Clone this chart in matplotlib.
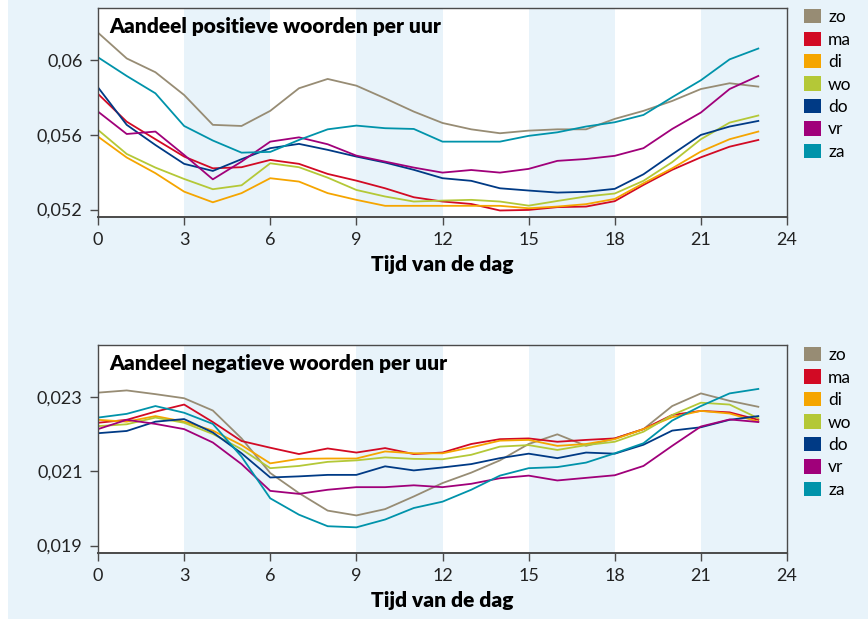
#!/usr/bin/env python3
r"""
Aandeel positieve / negatieve woorden per uur, per dag van de week.
"""

import matplotlib
matplotlib.use('Agg')
import matplotlib.pyplot as plt
from matplotlib.patches import Patch, Rectangle

plt.rcParams['font.family'] = ['Lato', 'DejaVu Sans']

hours = list(range(24))
days = ['zo', 'ma', 'di', 'wo', 'do', 'vr', 'za']
colors = ['#978c74', '#d20a24', '#f5a500', '#b4c837', '#003a85', '#a0007a', '#0093aa']

# positive word share per hour
pos_zo = [0.06148, 0.0601, 0.05936, 0.05814, 0.05654, 0.05648, 0.05729, 0.0585, 0.0590, 0.05864, 0.05796, 0.05725,
          0.05664, 0.0563, 0.05609, 0.05623, 0.0563, 0.0563, 0.05686, 0.05729, 0.05782, 0.05846, 0.05877, 0.05859]
pos_ma = [0.0582, 0.05671, 0.05577, 0.05484, 0.05421, 0.05427, 0.05466, 0.05445, 0.05391, 0.05355, 0.05314, 0.05266,
          0.05243, 0.0523, 0.05195, 0.05198, 0.05213, 0.05216, 0.05245, 0.05332, 0.05413, 0.0548, 0.05537, 0.05573]
pos_di = [0.05591, 0.05479, 0.05395, 0.05296, 0.05239, 0.05288, 0.05368, 0.0535, 0.05288, 0.05252, 0.0522, 0.0522,
          0.0522, 0.0522, 0.0522, 0.05207, 0.05216, 0.05229, 0.05257, 0.05341, 0.05421, 0.05511, 0.05577, 0.05618]
pos_wo = [0.05627, 0.05498, 0.05425, 0.05364, 0.05309, 0.0533, 0.05448, 0.05427, 0.05371, 0.05305, 0.0527, 0.05243,
          0.05248, 0.05252, 0.05243, 0.05221, 0.05246, 0.0527, 0.05286, 0.05354, 0.05454, 0.05577, 0.05666, 0.05704]
pos_do = [0.05855, 0.05654, 0.05546, 0.05445, 0.05407, 0.0547, 0.05529, 0.05552, 0.0552, 0.05484, 0.05452, 0.05413,
          0.05368, 0.05354, 0.05314, 0.05302, 0.05291, 0.05295, 0.05311, 0.05389, 0.05496, 0.056, 0.05645, 0.05675]
pos_vr = [0.05725, 0.05605, 0.05618, 0.05493, 0.05362, 0.05457, 0.05564, 0.05587, 0.0555, 0.05489, 0.05457, 0.05425,
          0.05398, 0.05412, 0.05398, 0.05418, 0.05461, 0.05471, 0.05488, 0.05529, 0.05632, 0.0572, 0.05846, 0.05916]
pos_za = [0.06016, 0.05916, 0.05823, 0.05648, 0.0557, 0.05505, 0.05509, 0.05573, 0.0563, 0.0565, 0.05636, 0.05632,
          0.05564, 0.05564, 0.05564, 0.05595, 0.05614, 0.05645, 0.05668, 0.05707, 0.05802, 0.05893, 0.06005, 0.06063]

# negative word share per hour
neg_zo = [0.02311, 0.02317, 0.02307, 0.02296, 0.02263, 0.02188, 0.02095, 0.02041, 0.01994, 0.01981, 0.01998, 0.02032,
          0.02068, 0.02096, 0.02129, 0.02173, 0.02199, 0.02168, 0.02188, 0.02213, 0.02275, 0.02309, 0.02289, 0.02273]
neg_ma = [0.0223, 0.02238, 0.0226, 0.02279, 0.02232, 0.02181, 0.02163, 0.02146, 0.02161, 0.0215, 0.02162, 0.02146,
          0.0215, 0.02173, 0.02186, 0.02188, 0.02179, 0.02184, 0.02188, 0.02213, 0.02251, 0.02262, 0.02258, 0.02238]
neg_di = [0.02238, 0.02233, 0.02248, 0.02233, 0.02209, 0.0217, 0.02121, 0.02133, 0.02134, 0.02134, 0.02153, 0.02148,
          0.02148, 0.02164, 0.02182, 0.02184, 0.02168, 0.02173, 0.02186, 0.02213, 0.02245, 0.02262, 0.02255, 0.02233]
neg_wo = [0.02221, 0.02226, 0.02244, 0.0223, 0.022, 0.02159, 0.02108, 0.02114, 0.02125, 0.02129, 0.02137, 0.02133,
          0.02132, 0.02144, 0.02166, 0.0217, 0.02157, 0.0217, 0.02179, 0.02206, 0.02251, 0.02284, 0.02279, 0.02242]
neg_do = [0.02202, 0.02208, 0.02233, 0.0224, 0.02204, 0.02148, 0.02083, 0.02086, 0.0209, 0.0209, 0.02113, 0.02102,
          0.0211, 0.02119, 0.02135, 0.02147, 0.02135, 0.0215, 0.02147, 0.02171, 0.02209, 0.02218, 0.02238, 0.02248]
neg_vr = [0.02213, 0.02238, 0.02227, 0.02213, 0.02177, 0.02119, 0.02047, 0.02039, 0.0205, 0.02057, 0.02057, 0.02062,
          0.02057, 0.02066, 0.02081, 0.02088, 0.02075, 0.02082, 0.02089, 0.02114, 0.02168, 0.0222, 0.02239, 0.02232]
neg_za = [0.02244, 0.02254, 0.02275, 0.02257, 0.02227, 0.02139, 0.02027, 0.01983, 0.01952, 0.01949, 0.0197, 0.02001,
          0.02018, 0.0205, 0.02088, 0.02108, 0.02111, 0.02123, 0.02148, 0.02175, 0.02236, 0.02275, 0.02309, 0.02321]

pos_series = [pos_zo, pos_ma, pos_di, pos_wo, pos_do, pos_vr, pos_za]
neg_series = [neg_zo, neg_ma, neg_di, neg_wo, neg_do, neg_vr, neg_za]

x_ticks = [0, 3, 6, 9, 12, 15, 18, 21, 24]
pos_yticks = [0.052, 0.056, 0.060]
pos_ylabels = ['0,052', '0,056', '0,06']
neg_yticks = [0.019, 0.021, 0.023]
neg_ylabels = ['0,019', '0,021', '0,023']

bg = '#e8f3fa'
band = '#e8f3fa'
frame = '#4a4a4a'

fig = plt.figure(figsize=(8.68, 6.19), dpi=100, facecolor=bg)
# white strip on the far left
fig.patches.append(Rectangle((0, 0), 8 / 868, 1, transform=fig.transFigure,
                             facecolor='white', edgecolor='none', zorder=0))
ax1 = fig.add_axes([0.1129, 0.6494, 0.7938, 0.3376])
ax2 = fig.add_axes([0.1129, 0.1066, 0.7938, 0.3360])


def style_axis(ax, series, yticks, ylabels, ylim, title):
    ax.set_facecolor('white')
    for start in [3, 9, 15, 21]:
        ax.axvspan(start, start + 3, color=band, lw=0, zorder=0)
    for vals, c in zip(series, colors):
        ax.plot(hours, vals, color=c, lw=1.3, zorder=2)
    ax.set_xlim(0, 24)
    ax.set_ylim(*ylim)
    ax.set_xticks(x_ticks)
    ax.set_xticklabels([str(t) for t in x_ticks])
    ax.set_yticks(yticks)
    ax.set_yticklabels(ylabels)
    ax.tick_params(axis='both', direction='out', length=6, width=1, color=frame,
                   labelsize=13, labelcolor='#222222', pad=5)
    for sp in ax.spines.values():
        sp.set_color(frame)
        sp.set_linewidth(1)
    ax.spines['bottom'].set_linewidth(1.4)
    ax.set_xlabel('Tijd van de dag', fontsize=15, fontweight='heavy', labelpad=5)
    ax.text(0.016, 0.955, title, transform=ax.transAxes, fontsize=15,
            fontweight='heavy', va='top', ha='left', color='black', zorder=3)


style_axis(ax1, pos_series, pos_yticks, pos_ylabels, (0.0516, 0.0628),
           'Aandeel positieve woorden per uur')
style_axis(ax2, neg_series, neg_yticks, neg_ylabels, (0.0188, 0.02439),
           'Aandeel negatieve woorden per uur')

handles = [Patch(facecolor=c, edgecolor='none') for c in colors]
for top in [1.005, 0.459]:
    fig.legend(handles, days, loc='upper left', bbox_to_anchor=(0.912, top),
               frameon=False, fontsize=12.5, handlelength=1.0, handleheight=0.9,
               handletextpad=0.4, labelspacing=0.36, borderpad=0.2)

fig.savefig('out.png', dpi=100, facecolor=bg)
print('Finished plotting')
